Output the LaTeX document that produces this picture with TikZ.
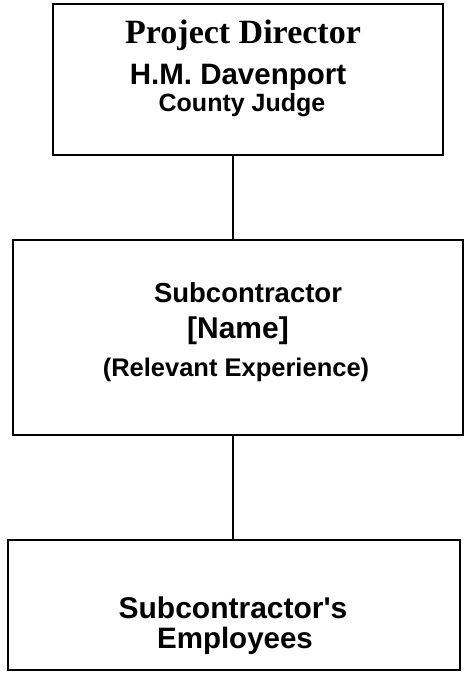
\documentclass[tikz,border=0pt]{standalone}
\usepackage{fontspec}
\setmainfont{Liberation Sans}
\newfontfamily\timesf{Liberation Serif}
\tikzset{
  box/.style={draw=black, line width=2pt, fill=none, inner sep=0pt},
  conn/.style={draw=black, line width=2pt},
  txt/.style={anchor=base, inner sep=0pt, font=\bfseries},
}
\begin{document}
\begin{tikzpicture}[x=1pt,y=-1pt]
\useasboundingbox (0,0) rectangle (474,690);
% boxes
\node[box, minimum width=390pt, minimum height=151pt] (top) at (248,79.5) {};
\node[box, minimum width=450pt, minimum height=195pt] (mid) at (238,337.5) {};
\node[box, minimum width=452pt, minimum height=130pt] (bot) at (234,605) {};
% connectors
\draw[conn] (233,0 |- top.south) -- (233,0 |- mid.north);
\draw[conn] (233,0 |- mid.south) -- (233,0 |- bot.north);
% texts
\node[txt, font=\timesf\bfseries\fontsize{34}{34}\selectfont] (t1) at (243,44) {Project Director};
\node[txt, font=\bfseries\fontsize{29.5}{29.5}\selectfont] (t2) at (238,85) {H.M. Davenport};
\node[txt, font=\bfseries\fontsize{25}{25}\selectfont] (t3) at (242,112) {County Judge};
\node[txt, font=\bfseries\fontsize{27.5}{27.5}\selectfont] (m1) at (248,302) {Subcontractor};
\node[txt, font=\bfseries\fontsize{30}{30}\selectfont] (m2) at (238,338) {[Name]};
\node[txt, font=\bfseries\fontsize{25.5}{25.5}\selectfont] (m3) at (236,376) {(Relevant Experience)};
\node[txt, font=\bfseries\fontsize{30}{30}\selectfont] (b1) at (233,618) {Subcontractor\textquotesingle s};
\node[txt, font=\bfseries\fontsize{29.5}{29.5}\selectfont] (b2) at (235,648) {Employees};
\end{tikzpicture}
\end{document}
